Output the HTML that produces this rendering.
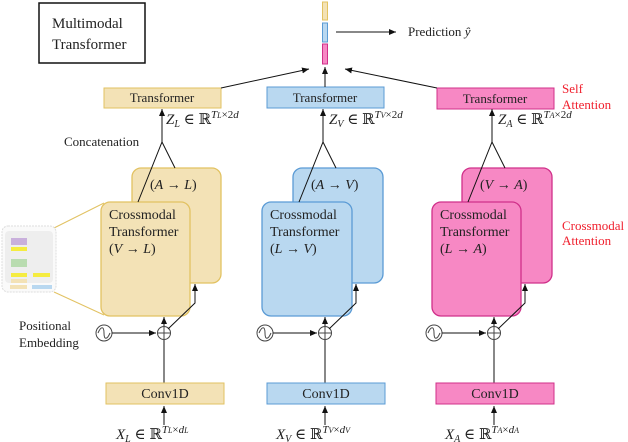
<!DOCTYPE html>
<html><head><meta charset="utf-8"><style>
body{margin:0;background:#fff}
svg{display:block}
svg text{font-family:"Liberation Serif","DejaVu Serif",serif;font-size:14px;fill:#222}
.i{font-style:italic}
.r{fill:#f0202e}
</style></head><body>
<svg width="628" height="442" viewBox="0 0 628 442" xmlns="http://www.w3.org/2000/svg" font-family="Liberation Serif, DejaVu Serif, serif">
<defs>
<marker id="a" markerWidth="8" markerHeight="8" refX="7" refY="4" orient="auto" markerUnits="userSpaceOnUse"><path d="M0,1 L7,4 L0,7 z" fill="#111"/></marker>
</defs>

<rect x="39" y="3" width="106" height="60" fill="#fff" stroke="#111" stroke-width="1.5"/>
<text x="52" y="28" style="font-size:15px">Multimodal</text>
<text x="52" y="49" style="font-size:15px">Transformer</text>

<rect x="322.5" y="2" width="5" height="18" fill="#f3e2b6" stroke="#e2c262"/>
<rect x="322.5" y="23" width="5" height="19" fill="#b9d8f0" stroke="#5b9bd5"/>
<rect x="322.5" y="44" width="5" height="20" fill="#f788c4" stroke="#d0308a"/>
<line x1="336" y1="32" x2="396" y2="32" stroke="#111" marker-end="url(#a)"/>
<text x="408" y="36" style="font-size:13px">Prediction <tspan class="i">ŷ</tspan></text>

<rect x="104" y="88" width="117" height="20" fill="#f3e2b6" stroke="#e2c262"/>
<text x="162" y="102" text-anchor="middle" style="font-size:13px">Transformer</text>
<rect x="267" y="87" width="117" height="21" fill="#b9d8f0" stroke="#5b9bd5"/>
<text x="325" y="102" text-anchor="middle" style="font-size:13px">Transformer</text>
<rect x="437" y="88" width="117" height="21" fill="#f788c4" stroke="#d0308a"/>
<text x="495" y="103" text-anchor="middle" style="font-size:13px">Transformer</text>
<line x1="221" y1="88" x2="309" y2="69" stroke="#111" marker-end="url(#a)"/>
<line x1="325" y1="87" x2="325" y2="67" stroke="#111" marker-end="url(#a)"/>
<line x1="437" y1="88" x2="345" y2="69" stroke="#111" marker-end="url(#a)"/>
<text x="562" y="93" class="r" style="font-size:13px">Self</text>
<text x="562" y="109" class="r" style="font-size:13px">Attention</text>
<text x="562" y="230" class="r" style="font-size:13px">Crossmodal</text>
<text x="562" y="245" class="r" style="font-size:13px">Attention</text>

<text x="64" y="146" style="font-size:13px">Concatenation</text>
<text x="19" y="330" style="font-size:13px">Positional</text>
<text x="19" y="347" style="font-size:13px">Embedding</text>

<!-- inset -->
<line x1="54" y1="228" x2="104" y2="203" stroke="#e2c262"/>
<line x1="54" y1="292" x2="104" y2="315" stroke="#e2c262"/>
<rect x="2" y="226" width="54" height="66" rx="6" fill="#fafafa" stroke="#ddd" stroke-dasharray="2,1"/>
<rect x="5" y="231" width="48" height="52" rx="4" fill="#eee"/>
<rect x="11" y="238" width="16" height="7" fill="#c9b0dc"/>
<rect x="11" y="247" width="16" height="4" fill="#f5ec40"/>
<rect x="11" y="259" width="16" height="8" fill="#b9dcb0"/>
<rect x="11" y="273" width="16" height="4" fill="#f5ec40"/>
<rect x="33" y="273" width="17" height="4" fill="#f5ec40"/>
<rect x="11" y="279" width="16" height="4" fill="#f3e2b6"/>
<rect x="10" y="285" width="17" height="4" fill="#f3e2b6"/>
<rect x="32" y="285" width="20" height="4" fill="#b9d8f0"/>

<!-- L column -->
<rect x="132" y="168" width="89" height="115" rx="9" fill="#f3e2b6" stroke="#e2c262" stroke-width="1.3"/>
<rect x="101" y="202" width="89" height="114" rx="9" fill="#f3e2b6" stroke="#e2c262" stroke-width="1.3"/>
<g transform="translate(164,0)">
  <line x1="0" y1="425" x2="0" y2="406" stroke="#111" marker-end="url(#a)"/>
  <line x1="0" y1="383" x2="0" y2="340" stroke="#111"/>
  <circle cx="0" cy="333" r="6.5" fill="#fff" stroke="#444"/>
  <line x1="-6.5" y1="333" x2="6.5" y2="333" stroke="#444"/>
  <line x1="0" y1="326.5" x2="0" y2="339.5" stroke="#444"/>
  <circle cx="-60" cy="333" r="8" fill="#fff" stroke="#444"/>
  <path d="M-66,333 C-63,326 -60,326 -60,333 C-60,340 -57,340 -54,333" fill="none" stroke="#444"/>
  <line x1="-52" y1="333" x2="-8" y2="333" stroke="#111" marker-end="url(#a)"/>
  <line x1="0" y1="326" x2="0" y2="317" stroke="#111" marker-end="url(#a)"/>
  <polyline points="4,329 31,303 31,284" fill="none" stroke="#111" marker-end="url(#a)"/>
  <line x1="-2" y1="143" x2="-2" y2="109" stroke="#111" marker-end="url(#a)"/>
  <polyline points="-26,202 -2,142 11,168" fill="none" stroke="#111"/>
</g>
<rect x="106" y="383" width="118" height="21" fill="#f3e2b6" stroke="#e2c262"/>
<text x="165" y="398" text-anchor="middle">Conv1D</text>
<text x="150" y="189">(<tspan class="i">A</tspan> → <tspan class="i">L</tspan>)</text>
<text x="109" y="219">Crossmodal</text>
<text x="109" y="236">Transformer</text>
<text x="109" y="253">(<tspan class="i">V</tspan> → <tspan class="i">L</tspan>)</text>
<text x="166" y="124" style="font-size:15px"><tspan class="i">Z</tspan><tspan class="i" style="font-size:10px" dy="3">L</tspan><tspan dy="-3"> ∈ ℝ</tspan><tspan class="i" style="font-size:11px" dy="-6">T</tspan><tspan class="i" style="font-size:8px">L</tspan><tspan style="font-size:11px">×2</tspan><tspan class="i" style="font-size:11px">d</tspan></text>
<text x="116" y="439" style="font-size:15px"><tspan class="i">X</tspan><tspan class="i" style="font-size:10px" dy="3">L</tspan><tspan dy="-3"> ∈ ℝ</tspan><tspan class="i" style="font-size:11px" dy="-6">T</tspan><tspan class="i" style="font-size:8px">L</tspan><tspan style="font-size:11px">×</tspan><tspan class="i" style="font-size:11px">d</tspan><tspan class="i" style="font-size:8px">L</tspan></text>

<!-- V column -->
<rect x="293" y="168" width="90" height="115" rx="9" fill="#b9d8f0" stroke="#5b9bd5" stroke-width="1.3"/>
<rect x="262" y="202" width="90" height="114" rx="9" fill="#b9d8f0" stroke="#5b9bd5" stroke-width="1.3"/>
<g transform="translate(325,0)">
  <line x1="0" y1="425" x2="0" y2="406" stroke="#111" marker-end="url(#a)"/>
  <line x1="0" y1="383" x2="0" y2="340" stroke="#111"/>
  <circle cx="0" cy="333" r="6.5" fill="#fff" stroke="#444"/>
  <line x1="-6.5" y1="333" x2="6.5" y2="333" stroke="#444"/>
  <line x1="0" y1="326.5" x2="0" y2="339.5" stroke="#444"/>
  <circle cx="-60" cy="333" r="8" fill="#fff" stroke="#444"/>
  <path d="M-66,333 C-63,326 -60,326 -60,333 C-60,340 -57,340 -54,333" fill="none" stroke="#444"/>
  <line x1="-52" y1="333" x2="-8" y2="333" stroke="#111" marker-end="url(#a)"/>
  <line x1="0" y1="326" x2="0" y2="317" stroke="#111" marker-end="url(#a)"/>
  <polyline points="4,329 31,303 31,284" fill="none" stroke="#111" marker-end="url(#a)"/>
  <line x1="-2" y1="143" x2="-2" y2="109" stroke="#111" marker-end="url(#a)"/>
  <polyline points="-26,202 -2,142 11,168" fill="none" stroke="#111"/>
</g>
<rect x="267" y="383" width="118" height="21" fill="#b9d8f0" stroke="#5b9bd5"/>
<text x="326" y="398" text-anchor="middle">Conv1D</text>
<text x="311" y="189">(<tspan class="i">A</tspan> → <tspan class="i">V</tspan>)</text>
<text x="270" y="219">Crossmodal</text>
<text x="270" y="236">Transformer</text>
<text x="270" y="253">(<tspan class="i">L</tspan> → <tspan class="i">V</tspan>)</text>
<text x="329" y="124" style="font-size:15px"><tspan class="i">Z</tspan><tspan class="i" style="font-size:10px" dy="3">V</tspan><tspan dy="-3"> ∈ ℝ</tspan><tspan class="i" style="font-size:11px" dy="-6">T</tspan><tspan class="i" style="font-size:8px">V</tspan><tspan style="font-size:11px">×2</tspan><tspan class="i" style="font-size:11px">d</tspan></text>
<text x="276" y="439" style="font-size:15px"><tspan class="i">X</tspan><tspan class="i" style="font-size:10px" dy="3">V</tspan><tspan dy="-3"> ∈ ℝ</tspan><tspan class="i" style="font-size:11px" dy="-6">T</tspan><tspan class="i" style="font-size:8px">V</tspan><tspan style="font-size:11px">×</tspan><tspan class="i" style="font-size:11px">d</tspan><tspan class="i" style="font-size:8px">V</tspan></text>

<!-- A column -->
<rect x="462" y="168" width="90" height="115" rx="9" fill="#f788c4" stroke="#d0308a" stroke-width="1.3"/>
<rect x="432" y="202" width="89" height="114" rx="9" fill="#f788c4" stroke="#d0308a" stroke-width="1.3"/>
<g transform="translate(494,0)">
  <line x1="0" y1="425" x2="0" y2="406" stroke="#111" marker-end="url(#a)"/>
  <line x1="0" y1="383" x2="0" y2="340" stroke="#111"/>
  <circle cx="0" cy="333" r="6.5" fill="#fff" stroke="#444"/>
  <line x1="-6.5" y1="333" x2="6.5" y2="333" stroke="#444"/>
  <line x1="0" y1="326.5" x2="0" y2="339.5" stroke="#444"/>
  <circle cx="-60" cy="333" r="8" fill="#fff" stroke="#444"/>
  <path d="M-66,333 C-63,326 -60,326 -60,333 C-60,340 -57,340 -54,333" fill="none" stroke="#444"/>
  <line x1="-52" y1="333" x2="-8" y2="333" stroke="#111" marker-end="url(#a)"/>
  <line x1="0" y1="326" x2="0" y2="317" stroke="#111" marker-end="url(#a)"/>
  <polyline points="4,329 31,303 31,284" fill="none" stroke="#111" marker-end="url(#a)"/>
  <line x1="-2" y1="143" x2="-2" y2="109" stroke="#111" marker-end="url(#a)"/>
  <polyline points="-26,202 -2,142 11,168" fill="none" stroke="#111"/>
</g>
<rect x="436" y="383" width="118" height="21" fill="#f788c4" stroke="#d0308a"/>
<text x="495" y="398" text-anchor="middle">Conv1D</text>
<text x="480" y="189">(<tspan class="i">V</tspan> → <tspan class="i">A</tspan>)</text>
<text x="440" y="219">Crossmodal</text>
<text x="440" y="236">Transformer</text>
<text x="440" y="253">(<tspan class="i">L</tspan> → <tspan class="i">A</tspan>)</text>
<text x="498" y="124" style="font-size:15px"><tspan class="i">Z</tspan><tspan class="i" style="font-size:10px" dy="3">A</tspan><tspan dy="-3"> ∈ ℝ</tspan><tspan class="i" style="font-size:11px" dy="-6">T</tspan><tspan class="i" style="font-size:8px">A</tspan><tspan style="font-size:11px">×2</tspan><tspan class="i" style="font-size:11px">d</tspan></text>
<text x="445" y="439" style="font-size:15px"><tspan class="i">X</tspan><tspan class="i" style="font-size:10px" dy="3">A</tspan><tspan dy="-3"> ∈ ℝ</tspan><tspan class="i" style="font-size:11px" dy="-6">T</tspan><tspan class="i" style="font-size:8px">A</tspan><tspan style="font-size:11px">×</tspan><tspan class="i" style="font-size:11px">d</tspan><tspan class="i" style="font-size:8px">A</tspan></text>
</svg>
</body></html>
